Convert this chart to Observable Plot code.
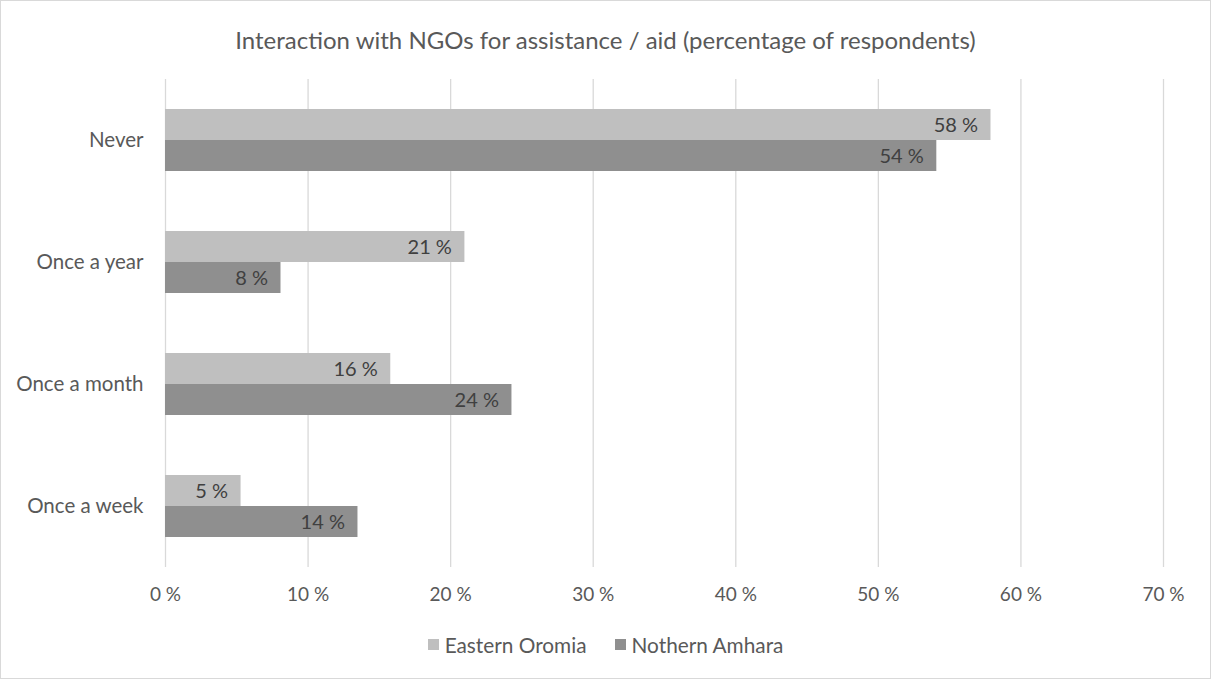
<!DOCTYPE html>
<html>
<head>
<meta charset="utf-8">
<script src="https://cdn.jsdelivr.net/npm/d3@7"></script>
<script src="https://cdn.jsdelivr.net/npm/@observablehq/plot@0.6"></script>
<style>
  body { margin: 0; background: #fff; }
  #wrap { position: relative; width: 1211px; height: 679px; background: #fff; font-family: Lato, "Open Sans", sans-serif; }
  #border { position: absolute; left: 0; top: 0; width: 1211px; height: 679px; box-sizing: border-box; border: 1px solid #d9d9d9; pointer-events: none; }
  #title { position: absolute; left: 0; top: 25px; width: 1211px; text-align: center; font-size: 24px; color: #595959; line-height: 30px; }
  #chart { position: absolute; left: 0; top: 70px; }
  #legend { position: absolute; left: 0; top: 632px; width: 1211px; height: 24px; display: flex; justify-content: center; align-items: center; font-size: 20.8px; color: #595959; }
  .item { display: flex; align-items: center; margin: 0 14px; }
  .sw { width: 11px; height: 11px; margin-right: 6px; }
  .fyaxis text { font-size: 20.5px; }
</style>
</head>
<body>
<div id="wrap">
  <div id="title">Interaction with NGOs for assistance / aid (percentage of respondents)</div>
  <div id="chart"></div>
  <div id="legend"></div>
  <div id="border"></div>
</div>
<script>
const categories = ["Never", "Once a year", "Once a month", "Once a week"];
const seriesNames = ["Eastern Oromia", "Nothern Amhara"];
const easternOromia = [57.9, 21.0, 15.8, 5.3];
const northernAmhara = [54.1, 8.1, 24.3, 13.5];
const xTicks = [0, 10, 20, 30, 40, 50, 60, 70];
const colors = ["#bfbfbf", "#8f8f8f"];

const data = [];
categories.forEach((c, i) => {
  data.push({category: c, series: seriesNames[0], value: easternOromia[i]});
  data.push({category: c, series: seriesNames[1], value: northernAmhara[i]});
});

const plot = Plot.plot({
  width: 1211,
  height: 538,
  marginTop: 7,
  marginBottom: 40,
  marginLeft: 165,
  marginRight: 48,
  style: {fontFamily: "Lato, 'Open Sans', sans-serif", fontSize: "19px", color: "#595959", background: "transparent"},
  x: {domain: [0, 70], ticks: xTicks, tickFormat: d => d + " %", tickSize: 0, tickPadding: 20, label: null},
  fy: {domain: categories, padding: 0, label: null, axis: null},
  y: {domain: seriesNames, axis: null, paddingInner: 0, paddingOuter: 0.93},
  color: {domain: seriesNames, range: colors},
  marks: [
    Plot.ruleX(xTicks, {stroke: "#d9d9d9", strokeWidth: 1.3}),
    Plot.axisFy({anchor: "left", tickSize: 0, tickPadding: 22, label: null, fontSize: 20.5, className: "fyaxis"}),
    Plot.barX(data, {x: "value", y: "series", fy: "category", fill: "series"}),
    Plot.text(data, {x: "value", y: "series", fy: "category", text: d => Math.round(d.value) + " %", textAnchor: "end", dx: -13, dy: 1, fill: "#404040", fontSize: 20})
  ]
});
document.getElementById("chart").appendChild(plot);

const legend = document.getElementById("legend");
seriesNames.forEach((s, i) => {
  const it = document.createElement("div");
  it.className = "item";
  it.innerHTML = `<span class="sw" style="background:${colors[i]}"></span><span>${s}</span>`;
  legend.appendChild(it);
});
</script>
</body>
</html>
